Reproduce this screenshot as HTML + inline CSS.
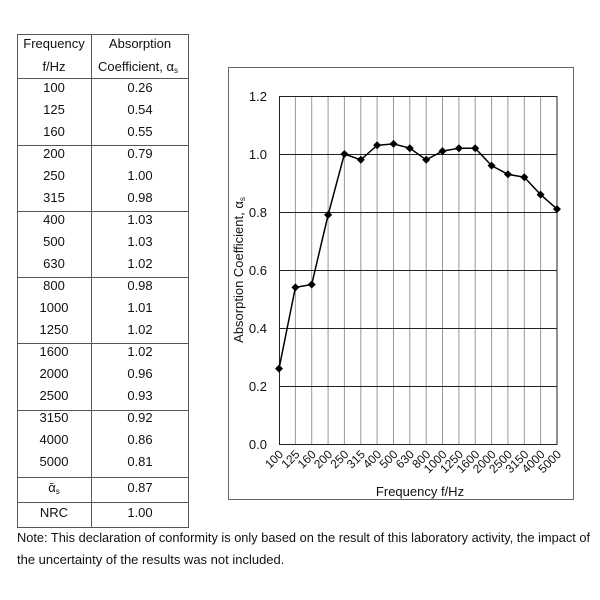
<!DOCTYPE html>
<html><head><meta charset="utf-8"><style>
body{margin:0;background:#fff;}
svg{display:block;font-family:"Liberation Sans",Arial,sans-serif;}
</style></head><body>
<svg width="600" height="600" viewBox="0 0 600 600">
<rect width="600" height="600" fill="#fff"/>
<g stroke="#555" stroke-width="1" fill="none">
<rect x="17.5" y="34.5" width="171" height="493"/>
<line x1="91.5" y1="34" x2="91.5" y2="528"/>
<line x1="17" y1="78.5" x2="189" y2="78.5"/>
<line x1="17" y1="145.5" x2="189" y2="145.5"/>
<line x1="17" y1="211.5" x2="189" y2="211.5"/>
<line x1="17" y1="277.5" x2="189" y2="277.5"/>
<line x1="17" y1="343.5" x2="189" y2="343.5"/>
<line x1="17" y1="410.5" x2="189" y2="410.5"/>
<line x1="17" y1="477.5" x2="189" y2="477.5"/>
<line x1="17" y1="502.5" x2="189" y2="502.5"/>
</g>
<g font-size="13" fill="#111" text-anchor="middle">
<text x="54" y="48">Frequency</text>
<text x="140" y="48">Absorption</text>
<text x="54" y="71">f/Hz</text>
<text x="138" y="71">Coefficient, α<tspan font-size="8" dy="2">s</tspan></text>
<text x="54" y="92">100</text><text x="140" y="92">0.26</text>
<text x="54" y="114">125</text><text x="140" y="114">0.54</text>
<text x="54" y="136">160</text><text x="140" y="136">0.55</text>
<text x="54" y="158">200</text><text x="140" y="158">0.79</text>
<text x="54" y="180">250</text><text x="140" y="180">1.00</text>
<text x="54" y="202">315</text><text x="140" y="202">0.98</text>
<text x="54" y="224">400</text><text x="140" y="224">1.03</text>
<text x="54" y="246">500</text><text x="140" y="246">1.03</text>
<text x="54" y="268">630</text><text x="140" y="268">1.02</text>
<text x="54" y="290">800</text><text x="140" y="290">0.98</text>
<text x="54" y="312">1000</text><text x="140" y="312">1.01</text>
<text x="54" y="334">1250</text><text x="140" y="334">1.02</text>
<text x="54" y="356">1600</text><text x="140" y="356">1.02</text>
<text x="54" y="378">2000</text><text x="140" y="378">0.96</text>
<text x="54" y="400">2500</text><text x="140" y="400">0.93</text>
<text x="54" y="422">3150</text><text x="140" y="422">0.92</text>
<text x="54" y="444">4000</text><text x="140" y="444">0.86</text>
<text x="54" y="466">5000</text><text x="140" y="466">0.81</text>
<text x="54" y="492">ᾱ<tspan font-size="8" dy="2">s</tspan></text><text x="140" y="492">0.87</text>
<text x="54" y="517">NRC</text><text x="140" y="517">1.00</text>
</g>
<g font-size="13" fill="#111">
<text x="17" y="542" textLength="573" lengthAdjust="spacingAndGlyphs">Note: This declaration of conformity is only based on the result of this laboratory activity, the impact of</text>
<text x="17" y="564">the uncertainty of the results was not included.</text>
</g>
<rect x="228.5" y="67.5" width="345" height="432" fill="none" stroke="#666"/>
<g stroke="#999" stroke-width="1">
<line x1="295.4" y1="96" x2="295.4" y2="444"/><line x1="311.7" y1="96" x2="311.7" y2="444"/>
<line x1="328.1" y1="96" x2="328.1" y2="444"/><line x1="344.4" y1="96" x2="344.4" y2="444"/>
<line x1="360.8" y1="96" x2="360.8" y2="444"/><line x1="377.1" y1="96" x2="377.1" y2="444"/>
<line x1="393.5" y1="96" x2="393.5" y2="444"/><line x1="409.8" y1="96" x2="409.8" y2="444"/>
<line x1="426.2" y1="96" x2="426.2" y2="444"/><line x1="442.5" y1="96" x2="442.5" y2="444"/>
<line x1="458.9" y1="96" x2="458.9" y2="444"/><line x1="475.2" y1="96" x2="475.2" y2="444"/>
<line x1="491.6" y1="96" x2="491.6" y2="444"/><line x1="507.9" y1="96" x2="507.9" y2="444"/>
<line x1="524.3" y1="96" x2="524.3" y2="444"/><line x1="540.6" y1="96" x2="540.6" y2="444"/>
</g>
<g stroke="#222" stroke-width="1">
<line x1="279" y1="154.5" x2="557" y2="154.5"/>
<line x1="279" y1="212.5" x2="557" y2="212.5"/>
<line x1="279" y1="270.5" x2="557" y2="270.5"/>
<line x1="279" y1="328.5" x2="557" y2="328.5"/>
<line x1="279" y1="386.5" x2="557" y2="386.5"/>
<rect x="279.5" y="96.5" width="277.5" height="348" fill="none"/>
</g>
<g font-size="13" fill="#111" text-anchor="end">
<text x="267" y="101">1.2</text><text x="267" y="159">1.0</text>
<text x="267" y="217">0.8</text><text x="267" y="275">0.6</text>
<text x="267" y="333">0.4</text><text x="267" y="391">0.2</text>
<text x="267" y="449">0.0</text>
</g>
<polyline fill="none" stroke="#000" stroke-width="1.5" points="279,368.6 295.4,287.4 311.7,284.5 328.1,214.9 344.4,154 360.8,159.8 377.1,145.3 393.5,143.9 409.8,148.2 426.2,159.8 442.5,151.1 458.9,148.2 475.2,148.2 491.6,165.6 507.9,174.3 524.3,177.2 540.6,194.6 557,209.1"/>
<g fill="#000">
<path d="M279,364.6l4,4l-4,4l-4,-4z"/><path d="M295.4,283.4l4,4l-4,4l-4,-4z"/>
<path d="M311.7,280.5l4,4l-4,4l-4,-4z"/><path d="M328.1,210.9l4,4l-4,4l-4,-4z"/>
<path d="M344.4,150l4,4l-4,4l-4,-4z"/><path d="M360.8,155.8l4,4l-4,4l-4,-4z"/>
<path d="M377.1,141.3l4,4l-4,4l-4,-4z"/><path d="M393.5,139.9l4,4l-4,4l-4,-4z"/>
<path d="M409.8,144.2l4,4l-4,4l-4,-4z"/><path d="M426.2,155.8l4,4l-4,4l-4,-4z"/>
<path d="M442.5,147.1l4,4l-4,4l-4,-4z"/><path d="M458.9,144.2l4,4l-4,4l-4,-4z"/>
<path d="M475.2,144.2l4,4l-4,4l-4,-4z"/><path d="M491.6,161.6l4,4l-4,4l-4,-4z"/>
<path d="M507.9,170.3l4,4l-4,4l-4,-4z"/><path d="M524.3,173.2l4,4l-4,4l-4,-4z"/>
<path d="M540.6,190.6l4,4l-4,4l-4,-4z"/><path d="M557,205.1l4,4l-4,4l-4,-4z"/>
</g>
<g font-size="12" fill="#111" text-anchor="end">
<text transform="translate(284,455) rotate(-45)">100</text>
<text transform="translate(300.4,455) rotate(-45)">125</text>
<text transform="translate(316.7,455) rotate(-45)">160</text>
<text transform="translate(333.1,455) rotate(-45)">200</text>
<text transform="translate(349.4,455) rotate(-45)">250</text>
<text transform="translate(365.8,455) rotate(-45)">315</text>
<text transform="translate(382.1,455) rotate(-45)">400</text>
<text transform="translate(398.5,455) rotate(-45)">500</text>
<text transform="translate(414.8,455) rotate(-45)">630</text>
<text transform="translate(431.2,455) rotate(-45)">800</text>
<text transform="translate(447.5,455) rotate(-45)">1000</text>
<text transform="translate(463.9,455) rotate(-45)">1250</text>
<text transform="translate(480.2,455) rotate(-45)">1600</text>
<text transform="translate(496.6,455) rotate(-45)">2000</text>
<text transform="translate(512.9,455) rotate(-45)">2500</text>
<text transform="translate(529.3,455) rotate(-45)">3150</text>
<text transform="translate(545.6,455) rotate(-45)">4000</text>
<text transform="translate(562,455) rotate(-45)">5000</text>
</g>
<text x="420" y="496" font-size="13" fill="#111" text-anchor="middle">Frequency f/Hz</text>
<text transform="translate(243,270) rotate(-90)" font-size="13" fill="#111" text-anchor="middle">Absorption Coefficient, α<tspan font-size="8" dy="2">s</tspan></text>
</svg>
</body></html>
